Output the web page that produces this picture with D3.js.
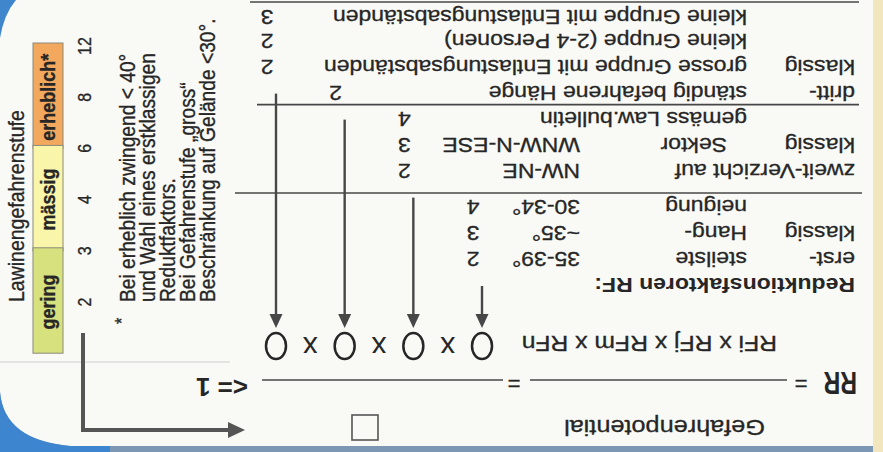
<!DOCTYPE html>
<html>
<head>
<meta charset="utf-8">
<script src="https://cdn.jsdelivr.net/npm/d3@7"></script>
<style>
  body { margin: 0; background: #f8f8f5; }
  svg { display: block; font-family: "Liberation Sans", Arial, sans-serif; }
</style>
</head>
<body>
<div id="container"></div>
<script>
// avalanche danger levels (left strip)
const levelNames = ["erheblich*", "mässig", "gering"];
const levelColors = ["#f2a95e", "#f9f5a9", "#d7e17e"];
const levelTop = ["12", "6", "3"];
const tickLabels = ["12", "8", "6", "4", "3", "2"];
const axisTitle = "Lawinengefahrenstufe";
const footnote = ["Bei erheblich zwingend < 40°", "und Wahl eines erstklassigen", "Reduktfaktors.",
                  "Bei Gefahrenstufe „gross“", "Beschränkung auf Gelände <30°."];

// reduction factors table
const factorNames = ["RFi", "RFj", "RFm", "RFn"];
const rowClass = ["erst-", "klassig", "", "zweit-Verzicht auf", "klassig", "", "dritt-", "klassig", "", ""];
const rowCrit = ["steilste", "Hang-", "neigung", "", "Sektor", "gemäss Law.bulletin",
                 "ständig befahrene Hänge", "grosse Gruppe mit Entlastungsabständen",
                 "kleine Gruppe (2-4 Personen)", "kleine Gruppe mit Entlastungsabständen"];
const rowRange = ["35-39°", "~35°", "30-34°", "NW-NE", "WNW-N-ESE", "", "", "", "", ""];
const rowRF = [2, 3, 4, 2, 3, 4, 2, 2, 2, 3];
const rowFactor = ["RFi", "RFi", "RFi", "RFj", "RFj", "RFj", "RFm", "RFn", "RFn", "RFn"];
const rowGroup = [0, 0, 0, 1, 1, 1, 2, 2, 2, 2];

const W = 883, H = 452;
const ink = "#262626", lineCol = "#474747";

let svg = d3.select("#container")
    .append("svg")
    .attr("width", W)
    .attr("height", H);

// card background + scan edges
svg.append("rect").attr("width", W).attr("height", H).attr("fill", "#f9f9f6");
svg.append("rect").attr("x", W - 10).attr("width", 10).attr("height", H).attr("fill", "#f1e6bd");
svg.append("path").attr("d", "M0,0 H16 Q4,14 0,38 Z").attr("fill", "#3f86cc");
svg.append("path").attr("d", "M0,392 Q4,440 70,446 L" + (W - 10) + ",446 V" + H + " H0 Z").attr("fill", "#7c97b3");
svg.append("path").attr("d", "M0,392 Q4,440 70,446 L110,446 L110," + H + " H0 Z").attr("fill", "#3d86cf");
svg.append("line").attr("x1", 0).attr("x2", 230).attr("y1", 362).attr("y2", 362)
    .attr("stroke", "#cfcfcf").attr("stroke-width", 1);

//Left strip: rotated texts, read bottom to top
function vtext(x, y, s, size, opt = {}) {
    return svg.append("text")
        .attr("transform", `translate(${x},${y}) rotate(-90) scale(1,${opt.sy || 1.12})`)
        .attr("font-size", size)
        .attr("font-weight", opt.bold ? "bold" : null)
        .attr("text-anchor", opt.anchor || "start")
        .attr("fill", ink)
        .attr("stroke", ink)
        .attr("stroke-width", 0.3)
        .text(s);
}

let ty = d3.scalePoint().domain(tickLabels).range([46, 302]);
let barBottom = ty("2") + ty.step();
let barEdge = (i) => i < levelTop.length - 1 ? ty(levelTop[i + 1]) : barBottom;

svg.selectAll("rect.level")
    .data(levelNames)
    .enter()
    .append("rect")
    .attr("class", "level")
    .attr("x", 33)
    .attr("width", 30)
    .attr("y", (d, i) => ty(levelTop[i]) - 3)
    .attr("height", (d, i) => barEdge(i) - ty(levelTop[i]) + 3)
    .attr("fill", (d, i) => levelColors[i])
    .attr("stroke", "#8a8a7a")
    .attr("stroke-width", 1);

levelNames.forEach((d, i) => {
    vtext(55, (ty(levelTop[i]) + barEdge(i)) / 2, d, 18, { bold: true, anchor: "middle" });
});
tickLabels.forEach(t => vtext(91, ty(t), t, 16, { anchor: "middle" }));
vtext(24, 302, axisTitle, 19.5);

vtext(128, 324, "*", 16);
footnote.forEach((s, i) => vtext(135 + i * 20, 302, s, 19.2));

// bent arrow bottom left
svg.append("path").attr("d", "M83,333 V430 H230")
    .attr("fill", "none").attr("stroke", "#555").attr("stroke-width", 4);
svg.append("path").attr("d", "M228,422 L245,430 L228,438 Z").attr("fill", "#555");

//Main card is printed upside down
let card = svg.append("g").attr("transform", `rotate(180 ${W / 2} ${H / 2})`);

function put(x, y, s, size, opt = {}) {
    return card.append("text")
        .attr("transform", `translate(${x},${y}) scale(${opt.sx || 1.15},1)`)
        .attr("font-size", size)
        .attr("font-weight", opt.bold ? "bold" : null)
        .attr("text-anchor", opt.anchor || "start")
        .attr("fill", ink)
        .attr("stroke", ink)
        .attr("stroke-width", opt.sw === undefined ? 0.3 : opt.sw)
        .text(s);
}

let ry = d3.scaleLinear().domain([0, 1]).range([200, 226]);
let rowY = (i) => ry(i + (rowGroup[i] > 0 ? 0.4 : 0)) - (i === 9 ? 2 : 0);
let fx = d3.scalePoint().domain(factorNames).range([401, 607]);

put(28, ry(-1), "Reduktionsfaktoren RF:", 20, { bold: true, sw: 0 });

rowClass.forEach((s, i) => {
    if (s) put(28, rowY(i), s, 20);
    if (rowCrit[i]) put(rowCrit[i] === "Sektor" ? 156 : 136, rowY(i), rowCrit[i], 20);
    if (rowRange[i]) put(303, rowY(i), rowRange[i], 20);
    put(fx(rowFactor[i]) + 9, rowY(i), rowRF[i], 20, { anchor: "middle" });
});

// separators under each group
let lastRows = d3.range(3).map(g => d3.max(d3.range(rowGroup.length).filter(i => rowGroup[i] === g)));
card.selectAll("line.sep")
    .data(lastRows)
    .enter()
    .append("line")
    .attr("x1", (d, i) => i === 0 ? 21 : 24)
    .attr("x2", (d, i) => i === 0 ? 648 : (i === 1 ? 626 : 633))
    .attr("y1", (d, i) => i === 2 ? 450 : rowY(d) + 7)
    .attr("y2", (d, i) => i === 2 ? 450 : rowY(d) + 7)
    .attr("stroke", lineCol)
    .attr("stroke-width", 1.6);

// arrows from each factor block up to its circle
let firstRow = factorNames.map(f => rowFactor.indexOf(f));
card.selectAll("line.arrow")
    .data(factorNames)
    .enter()
    .append("line")
    .attr("x1", d => fx(d)).attr("x2", d => fx(d))
    .attr("y1", (d, i) => rowY(firstRow[i]) - 34)
    .attr("y2", 136)
    .attr("stroke", lineCol)
    .attr("stroke-width", 2.4);
card.selectAll("path.head")
    .data(factorNames)
    .enter()
    .append("path")
    .attr("d", d => `M${fx(d) - 6.5},138 L${fx(d) + 6.5},138 L${fx(d)},124 Z`)
    .attr("fill", lineCol);

card.selectAll("ellipse")
    .data(factorNames)
    .enter()
    .append("ellipse")
    .attr("cx", d => fx(d))
    .attr("cy", 106)
    .attr("rx", 10)
    .attr("ry", 13)
    .attr("fill", "none")
    .attr("stroke", ink)
    .attr("stroke-width", 2.5);
factorNames.slice(1).forEach((f, i) => {
    put((fx(f) + fx(factorNames[i])) / 2, 115, "x", 30, { sx: 1, anchor: "middle", sw: 0 });
});

put(106, 116, factorNames.join(" x "), 21.5);

// RR = ---- = ---- <= 1
put(26, 80, "RR", 32, { sx: 0.72, bold: true, sw: 0 });
put(82, 76, "=", 22, { sx: 1, anchor: "middle" });
put(369, 76, "=", 22, { sx: 1, anchor: "middle" });
card.selectAll("line.frac")
    .data([[96, 353], [380, 621]])
    .enter()
    .append("line")
    .attr("x1", d => d[0]).attr("x2", d => d[1])
    .attr("y1", 72).attr("y2", 72)
    .attr("stroke", lineCol)
    .attr("stroke-width", 1.6);
put(635, 74, "<= 1", 26, { sx: 1, bold: true, sw: 0 });

put(118, 32, "Gefahrenpotential", 22);
card.append("rect")
    .attr("x", 505).attr("y", 12)
    .attr("width", 26).attr("height", 25)
    .attr("fill", "none")
    .attr("stroke", "#555")
    .attr("stroke-width", 1.6);
</script>
</body>
</html>
